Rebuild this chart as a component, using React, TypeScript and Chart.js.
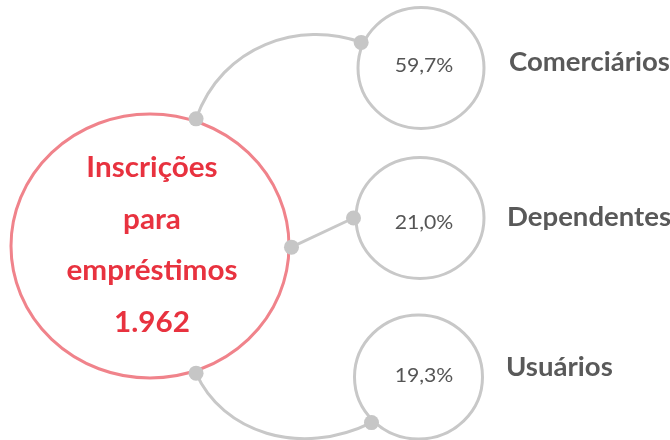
import { useEffect, useRef } from 'react';
import { Chart, registerables } from 'chart.js';

Chart.register(...registerables);

// ---- data ----
const categories = ['Comerciários', 'Dependentes', 'Usuários'];
const shares = [59.7, 21.0, 19.3];
const titleLines = ['Inscrições', 'para', 'empréstimos'];
const total = 1962;

// ---- layout (design, not data) ----
const HUB = { cx: 150, cy: 246, rx: 139, ry: 132 };
const NODES = [
  { cx: 421, cy: 68, rx: 63, ry: 60.5, labelX: 509, labelY: 71, pctY: 72 },
  { cx: 420, cy: 218, rx: 64, ry: 60.5, labelX: 507, labelY: 226, pctY: 229 },
  { cx: 418.5, cy: 377, rx: 64, ry: 62, labelX: 506, labelY: 376, pctY: 382 },
];
const HUB_ANGLES = [-71, 0.5, 71];
const NODE_ANGLES = [-156, 180, 135];
const DOT_OFFSET = 2.5;
const CURVES: (null | { c1: [number, number]; c2: [number, number] })[] = [
  { c1: [222, 45], c2: [300, 20] },
  null,
  { c1: [222, 432], c2: [300, 458] },
];
const TITLE_BASELINES = [177, 229, 280, 332];
const TITLE_X = 152;
const PCT_X = 424;
const TEXT_STRETCH = 1.06;

const GRAY = '#c8c8c8';
const HUB_STROKE = '#f0838b';
const TITLE_COLOR = '#e8323f';
const LABEL_COLOR = '#595959';
const PCT_COLOR = '#555555';

function onEllipse(e: { cx: number; cy: number; rx: number; ry: number }, deg: number, off: number) {
  const a = (deg * Math.PI) / 180;
  return { x: e.cx + (e.rx + off) * Math.cos(a), y: e.cy + (e.ry + off) * Math.sin(a) };
}

function fmtPct(v: number) {
  return v.toFixed(1).replace('.', ',') + '%';
}
function fmtInt(v: number) {
  return String(v).replace(/\B(?=(\d{3})+(?!\d))/g, '.');
}

const hubDots = categories.map((_, i) => onEllipse(HUB, HUB_ANGLES[i], DOT_OFFSET));
const nodeDots = categories.map((_, i) => onEllipse(NODES[i], NODE_ANGLES[i], DOT_OFFSET));

function stretchedText(ctx: CanvasRenderingContext2D, text: string, x: number, y: number) {
  ctx.save();
  ctx.translate(x, y);
  ctx.scale(TEXT_STRETCH, 1);
  ctx.fillText(text, 0, 0);
  ctx.restore();
}

const diagramPlugin = {
  id: 'diagram',
  beforeDatasetsDraw(chart: any) {
    const { ctx } = chart;
    const xs = chart.scales.x;
    const ys = chart.scales.y;
    const px = (v: number) => xs.getPixelForValue(v);
    const py = (v: number) => ys.getPixelForValue(v);
    const ell = (e: { cx: number; cy: number; rx: number; ry: number }, color: string) => {
      const cx = px(e.cx);
      const cy = py(e.cy);
      const rx = Math.abs(px(e.cx + e.rx) - cx);
      const ry = Math.abs(py(e.cy + e.ry) - cy);
      ctx.beginPath();
      ctx.ellipse(cx, cy, rx, ry, 0, 0, Math.PI * 2);
      ctx.strokeStyle = color;
      ctx.lineWidth = 3;
      ctx.stroke();
    };
    ctx.save();
    categories.forEach((_, i) => {
      const a = hubDots[i];
      const b = nodeDots[i];
      const c = CURVES[i];
      ctx.beginPath();
      ctx.moveTo(px(a.x), py(a.y));
      if (c) {
        ctx.bezierCurveTo(px(c.c1[0]), py(c.c1[1]), px(c.c2[0]), py(c.c2[1]), px(b.x), py(b.y));
      } else {
        ctx.lineTo(px(b.x), py(b.y));
      }
      ctx.strokeStyle = GRAY;
      ctx.lineWidth = 3;
      ctx.stroke();
    });
    ell(HUB, HUB_STROKE);
    NODES.forEach((n) => ell(n, GRAY));
    ctx.restore();
  },
  afterDatasetsDraw(chart: any) {
    const { ctx } = chart;
    const xs = chart.scales.x;
    const ys = chart.scales.y;
    const px = (v: number) => xs.getPixelForValue(v);
    const py = (v: number) => ys.getPixelForValue(v);
    ctx.save();
    ctx.textBaseline = 'alphabetic';
    ctx.fillStyle = TITLE_COLOR;
    ctx.textAlign = 'center';
    ctx.font = 'bold 28px Lato';
    const lines = [...titleLines, fmtInt(total)];
    lines.forEach((t, i) => stretchedText(ctx, t, px(TITLE_X), py(TITLE_BASELINES[i])));
    ctx.fillStyle = PCT_COLOR;
    ctx.font = '20px Lato';
    shares.forEach((v, i) => stretchedText(ctx, fmtPct(v), px(PCT_X), py(NODES[i].pctY)));
    ctx.textAlign = 'left';
    ctx.fillStyle = LABEL_COLOR;
    ctx.font = 'bold 26px Lato';
    categories.forEach((c, i) => stretchedText(ctx, c, px(NODES[i].labelX), py(NODES[i].labelY)));
    ctx.restore();
  },
};

export default function App() {
  const ref = useRef<HTMLCanvasElement | null>(null);
  useEffect(() => {
    document.body.style.margin = '0';
    const canvas = ref.current;
    if (!canvas) return;
    const chart = new Chart(canvas, {
      type: 'scatter',
      data: {
        datasets: [
          {
            data: [...hubDots, ...nodeDots],
            pointRadius: 7.5,
            pointBackgroundColor: '#c6c6c6',
            pointBorderWidth: 0,
            pointHoverRadius: 7.5,
            clip: false,
          },
        ],
      },
      options: {
        animation: false,
        responsive: false,
        events: [],
        layout: { padding: 0, autoPadding: false },
        scales: {
          x: { type: 'linear', min: 0, max: 670, display: false },
          y: { type: 'linear', min: 0, max: 440, reverse: true, display: false },
        },
        plugins: { legend: { display: false }, tooltip: { enabled: false } },
      },
      plugins: [diagramPlugin],
    });
    return () => chart.destroy();
  }, []);
  return (
    <div style={{ width: 670, height: 440 }}>
      <canvas ref={ref} width={670} height={440} style={{ display: 'block' }} />
    </div>
  );
}
